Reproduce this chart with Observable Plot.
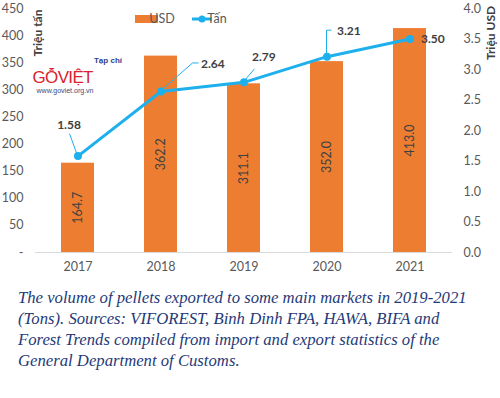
<!DOCTYPE html>
<html>
<head>
<meta charset="utf-8">
<script src="https://cdn.jsdelivr.net/npm/d3@7"></script>
<script src="https://cdn.jsdelivr.net/npm/@observablehq/plot@0.6"></script>
<style>
  body { margin: 0; background: #fff; }
  #chart svg { display: block; }
  #caption {
    font-family: "Liberation Serif", "Times New Roman", serif;
    font-style: italic;
    font-size: 16.7px;
    line-height: 21px;
    color: #1f3a78;
    padding-left: 18px;
    margin-top: 7px;
    white-space: nowrap;
  }
</style>
</head>
<body>
<div id="chart"></div>
<div id="caption">The volume of pellets exported to some main markets in 2019-2021<br>(Tons). Sources: VIFOREST, Binh Dinh FPA, HAWA, BIFA and<br>Forest Trends compiled from import and export statistics of the<br>General Department of Customs.</div>
<script>
const years = ["2017", "2018", "2019", "2020", "2021"];
const usd = [164.7, 362.2, 311.1, 352.0, 413.0];
const tons = [1.58, 2.64, 2.79, 3.21, 3.50];
const leftTicks = [0, 50, 100, 150, 200, 250, 300, 350, 400, 450];
const rightTicks = [0, 0.5, 1.0, 1.5, 2.0, 2.5, 3.0, 3.5, 4.0];
const seriesNames = ["USD", "Tấn"];
const axisTitles = ["Triệu tấn", "Triệu USD"];

const LEFT_MAX = 450, RIGHT_MAX = 4;
const k = LEFT_MAX / RIGHT_MAX;
const data = years.map((y, i) => ({year: y, usd: usd[i], tons: tons[i], t: tons[i] * k}));

const ORANGE = "#ED7D31", BLUE = "#1DB0EC", DARK = "#404040", GRAY = "#595959";

// label layout (pixel offsets from each point)
const labelLayout = [
  {dx: -9, dy: -31, anchor: "middle", leader: [[0, 0], [-8, -22]]},
  {dx: 40, dy: -27, anchor: "start", leader: [[0, 0], [32, -28], [38, -28]]},
  {dx: 8, dy: -25, anchor: "start", leader: [[0, 0], [11, -13]]},
  {dx: 10, dy: -26, anchor: "start", leader: [[0, 0], [0, -26], [5, -26]]},
  {dx: 11, dy: 0, anchor: "start", leader: null}
];

const valueLabels = data.map((d, i) => Plot.text([d], {
  x: "year", y: "t", text: dd => dd.tons.toFixed(2),
  dx: labelLayout[i].dx, dy: labelLayout[i].dy, textAnchor: labelLayout[i].anchor,
  fill: DARK, fontWeight: "bold", fontSize: 12
}));

const plot = Plot.plot({
  width: 500, height: 280,
  marginTop: 8, marginBottom: 28, marginLeft: 35, marginRight: 48,
  style: {fontFamily: "Lato, 'Open Sans', sans-serif", fontSize: "12px", color: GRAY, background: "white"},
  x: {domain: years, paddingInner: 0.6, paddingOuter: 0.3, label: null},
  y: {domain: [0, LEFT_MAX], label: null},
  marks: [
    Plot.axisX({tickSize: 0, tickPadding: 10, fill: GRAY, fontSize: 12.5}),
    Plot.axisY({ticks: leftTicks, tickSize: 0, tickPadding: 12, tickFormat: d => d === 0 ? "-" : d, fill: GRAY, fontSize: 12.5, label: null}),
    Plot.axisY({anchor: "right", ticks: rightTicks.map(v => v * k), tickSize: 0, tickPadding: 11, tickFormat: d => (d / k).toFixed(1), fill: GRAY, fontSize: 12.5, label: null}),
    Plot.ruleY([0], {stroke: "#d9d9d9"}),
    Plot.barY(data, {x: "year", y: "usd", fill: ORANGE}),
    Plot.text(data, {x: "year", y: d => d.usd / 2, text: d => d.usd.toFixed(1), rotate: -90, fill: DARK, fontSize: 12.5}),
    Plot.line(data, {x: "year", y: "t", stroke: BLUE, strokeWidth: 3}),
    Plot.dot(data, {x: "year", y: "t", r: 4, fill: BLUE}),
    ...valueLabels
  ]
});

document.getElementById("chart").appendChild(plot);

const svg = d3.select(plot);
const sx = plot.scale("x"), sy = plot.scale("y");
const bw = sx.bandwidth || 0;

// leader lines
data.forEach((d, i) => {
  const L = labelLayout[i].leader;
  if (!L) return;
  const px = sx.apply(d.year) + bw / 2, py = sy.apply(d.t);
  svg.append("polyline")
    .attr("points", L.map(([ox, oy]) => `${px + ox},${py + oy}`).join(" "))
    .attr("fill", "none").attr("stroke", BLUE).attr("stroke-width", 1);
});

// axis titles
svg.append("text").attr("transform", "translate(42,33) rotate(-90)")
  .attr("text-anchor", "middle").attr("fill", DARK).attr("font-weight", "bold")
  .attr("font-size", 12).attr("font-family", "Lato, sans-serif").text(axisTitles[0]);
svg.append("text").attr("transform", "translate(495,33) rotate(-90)")
  .attr("text-anchor", "middle").attr("fill", DARK).attr("font-weight", "bold")
  .attr("font-size", 12).attr("font-family", "Lato, sans-serif").text(axisTitles[1]);

// legend
const lg = svg.append("g").attr("font-family", "Lato, sans-serif").attr("font-size", 12.5).attr("fill", GRAY);
lg.append("rect").attr("x", 135).attr("y", 15).attr("width", 23).attr("height", 8).attr("fill", ORANGE);
lg.append("text").attr("x", 162).attr("y", 19).attr("dy", "0.35em").text(seriesNames[0]);
lg.append("line").attr("x1", 192).attr("x2", 212).attr("y1", 19).attr("y2", 19).attr("stroke", BLUE).attr("stroke-width", 3);
lg.append("circle").attr("cx", 202).attr("cy", 19).attr("r", 3.5).attr("fill", BLUE);
lg.append("text").attr("x", 217).attr("y", 19).attr("dy", "0.35em").text(seriesNames[1]);

// watermark logo
const wm = svg.append("g").attr("font-family", "'Liberation Sans', sans-serif");
wm.append("text").attr("x", 108).attr("y", 63).attr("text-anchor", "middle").attr("font-size", 8)
  .attr("font-weight", "bold").attr("fill", "#2b3f8f").text("Tạp chí");
wm.append("text").attr("x", 63).attr("y", 83).attr("font-size", 17).attr("textLength", 61)
  .attr("lengthAdjust", "spacing").attr("fill", "#d9232d").text("GỖVIỆT");
wm.append("text").attr("x", 65).attr("y", 93).attr("font-size", 6.5).attr("textLength", 57)
  .attr("lengthAdjust", "spacingAndGlyphs").attr("fill", "#3a4a7a").text("www.goviet.org.vn");
</script>
</body>
</html>
